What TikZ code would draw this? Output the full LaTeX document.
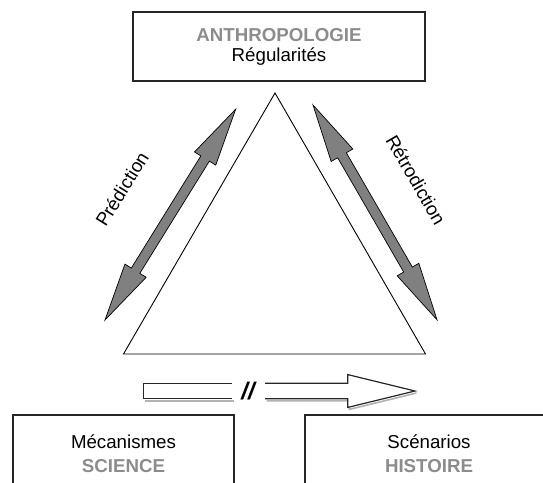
\documentclass[tikz,border=0pt]{standalone}
\usepackage{fontspec}
\setmainfont{Liberation Sans}
\definecolor{txtgray}{gray}{0.55}
\definecolor{arrgray}{gray}{0.5}

\begin{document}
\begin{tikzpicture}[
        x=1pt, y=1pt,
        box/.style={draw=black!85, line width=1.3pt, rectangle, align=center, inner sep=0pt},
        label/.style={font=\fontsize{18.7}{20}\selectfont},
        grayarrow/.style={draw=black, line width=0.7pt, fill=arrgray, line join=miter},
        hollow/.style={draw=black!85, line width=1.2pt, line join=miter},
        shade/.style={draw=black!30, line width=1.6pt, line join=miter},
        dblarrow/.pic={
            \draw[grayarrow] (0,0) -- (58,12.5) -- (58,5) -- (190,5) -- (190,12.5)
                -- (248,0) -- (190,-12.5) -- (190,-5) -- (58,-5) -- (58,-12.5) -- cycle;
        }
    ]
    \useasboundingbox (0,0) rectangle (543,-482);
    \clip (0,0) rectangle (543,-482);

    % Top box
    \node[box, label, minimum width=292, minimum height=69] (anthro) at (279,-46.5)
        {{\color{txtgray}\bfseries ANTHROPOLOGIE}\\Régularités};

    % Triangle
    \coordinate (apex) at (275,-93);
    \coordinate (bl) at (123.5,-354);
    \coordinate (br) at (425.5,-354);
    \draw[line width=0.9pt, line join=miter] (apex) -- (bl) -- (br) -- cycle;

    % Double arrows and their labels
    \pic[rotate=58.2] at (105,-320) {dblarrow};
    \pic[rotate=-60] at (313,-105) {dblarrow};
    \node[label, rotate=58.2] (pred) at (122,-189) {Prédiction};
    \node[label, rotate=-60] (retro) at (416,-180) {Rétrodiction};

    % Hollow arrow (with a soft shadow)
    \begin{scope}[shift={(1.5,-2)}]
        \draw[shade] (143.6,-398.8) -- (232,-398.8);
        \draw[shade] (265,-398.8) -- (347.8,-398.8) -- (347.8,-407.4) -- (415,-391);
    \end{scope}
    \draw[hollow, fill=white] (232,-383.3) -- (143.6,-383.3) -- (143.6,-398.8) -- (232,-398.8);
    \draw[hollow, fill=white] (265,-383.3) -- (347.8,-383.3) -- (347.8,-374.6) -- (415,-391)
        -- (347.8,-407.4) -- (347.8,-398.8) -- (265,-398.8);
    \node[font=\fontsize{24}{24}\selectfont\bfseries\itshape] (gap) at (248,-391) {//};

    % Bottom boxes
    \node[box, font=\fontsize{18.7}{23.5}\selectfont, minimum width=221, minimum height=77.4] (meca)
        at (123.5,-453.7) {Mécanismes\\{\color{txtgray}\bfseries SCIENCE}};
    \node[box, font=\fontsize{18.7}{23.5}\selectfont, minimum width=248, minimum height=77.4] (scen)
        at (429,-453.7) {Scénarios\\{\color{txtgray}\bfseries HISTOIRE}};

\end{tikzpicture}
\end{document}
